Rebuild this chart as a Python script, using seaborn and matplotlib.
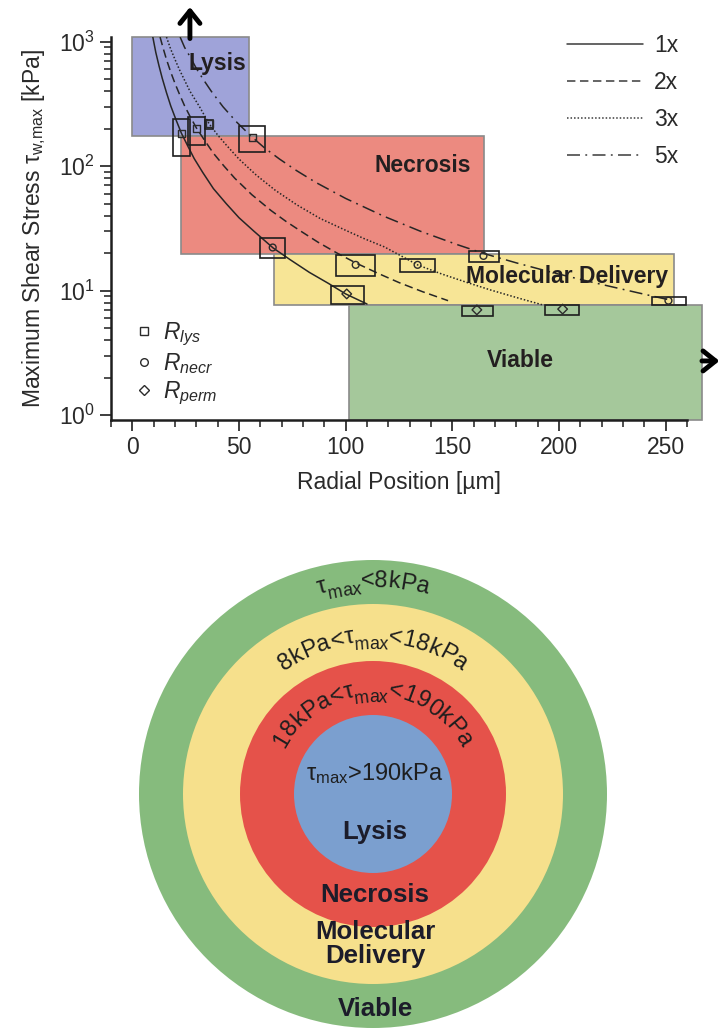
import numpy as np
import pandas as pd
import matplotlib
matplotlib.use('Agg')
import matplotlib.pyplot as plt
import seaborn as sns
from matplotlib.patches import Rectangle, Circle
from matplotlib.lines import Line2D
from matplotlib.ticker import MultipleLocator, LogLocator, NullFormatter
from matplotlib.font_manager import FontProperties

# 曲線資料: 徑向位置 [µm] 與最大剪應力 [kPa]
r_1x = [9.6, 11, 12.5, 14, 16, 18, 20.5, 23, 26, 29, 33, 38, 44, 50, 57, 66, 74, 83, 92, 100, 110]
tau_1x = [1090, 820, 640, 510, 390, 305, 235, 184, 145, 115, 89, 66, 50, 38.5, 30, 22, 17.7, 14,
          11.4, 9.4, 7.8]
r_2x = [13, 14.5, 16, 18, 20, 22, 24.5, 27, 30, 34, 38, 43, 48, 56, 65, 72, 79, 87, 96, 105, 115,
        125, 136, 148]
tau_2x = [1090, 880, 720, 570, 462, 382, 305, 252, 203, 160, 127, 100, 80, 59, 44, 36, 30, 24.5,
          20, 16.6, 13.8, 11.6, 9.8, 8.3]
r_3x = [16, 18, 20, 22, 24, 27, 31.5, 36, 40, 44, 50, 58, 67, 77, 88, 100, 109, 118, 126, 134,
        145, 157, 168, 180, 192]
tau_3x = [1090, 870, 720, 600, 510, 400, 300, 219, 178, 148, 114, 85, 64, 49, 38, 30.5, 26, 22.5,
          19, 16, 13.6, 11.6, 10.1, 8.8, 7.7]
r_5x = [22.4, 24.5, 27, 30, 33, 37, 42.5, 49, 56, 62, 69, 77, 86, 100, 118, 135, 152, 165, 180,
        196, 210, 222, 237, 252]
tau_5x = [1090, 900, 760, 610, 505, 400, 300, 225, 172, 140, 114, 92, 74, 55, 39.5, 30, 23.5, 19.8,
          16.7, 14.1, 12.3, 11, 9.6, 8.4]
scale_labels = ['1x', '2x', '3x', '5x']

# 量測點 (R_lys, R_necr, R_perm) 與誤差框
pt_kind = ['lys', 'lys', 'lys', 'lys', 'necr', 'necr', 'necr', 'necr', 'necr', 'perm', 'perm', 'perm']
pt_r = [23, 30.2, 36, 56.2, 65.8, 104.7, 133.7, 164.6, 251.3, 100.5, 161.5, 201.7]
pt_tau = [182, 200, 219, 171, 22.2, 16.1, 16.1, 19, 8.3, 9.4, 7.0, 7.1]
box_r_lo = [18.9, 26.2, 34, 50.1, 59.8, 95.7, 125.7, 157.8, 243.5, 93, 154.6, 193.5]
box_r_hi = [27, 34, 38, 62.2, 71.7, 113.7, 141.7, 171.7, 259.6, 108.7, 168.9, 209.6]
box_tau_lo = [120, 149, 200, 130, 18.2, 13.1, 14.2, 17.1, 7.7, 7.8, 6.3, 6.4]
box_tau_hi = [241, 247, 235, 209, 26.4, 19.4, 18, 20.9, 8.8, 10.9, 7.5, 7.6]

# 區域 (Lysis / Necrosis / Molecular Delivery / Viable)
region_names = ['Lysis', 'Necrosis', 'Molecular Delivery', 'Viable']
region_x0 = [0, 22.7, 66.5, 101.7]
region_x1 = [54.7, 165, 254, 266.8]
region_lo = [174, 19.8, 7.7, 0.912]
region_hi = [1091, 174, 19.8, 7.6]
region_colors = ['#9fa3d9', '#ec8a80', '#f7e596', '#a5c89b']
region_label_x = [40, 136, 204, 182]
region_label_y = [674, 102, 12.9, 2.72]

# 下方同心圓
ring_radii = [234, 190, 133, 79]
ring_colors = ['#86bb7d', '#f6e08c', '#e5524a', '#7b9fcf']
ring_names = ['Viable', 'Molecular\nDelivery', 'Necrosis', 'Lysis']

sns.set_style('ticks')
plt.rcParams['font.family'] = ['Liberation Sans', 'DejaVu Sans']
plt.rcParams['mathtext.fontset'] = 'custom'
plt.rcParams['mathtext.rm'] = 'Liberation Sans'
plt.rcParams['mathtext.it'] = 'Liberation Sans:italic'
plt.rcParams['mathtext.bf'] = 'Liberation Sans:bold'

TXT = '#2a2a2a'
FS = 16.5

fig = plt.figure(figsize=(7.2, 10.3), dpi=100)
ax = fig.add_axes([111 / 720, 1 - 420 / 1030, 576 / 720, 383 / 1030])
ax.set_yscale('log')
ax.set_xlim(-10, 260)
ax.set_ylim(0.912, 1091)

# 區域方塊
for x0, x1, lo, hi, c in zip(region_x0, region_x1, region_lo, region_hi, region_colors):
    ax.add_patch(Rectangle((x0, lo), x1 - x0, hi - lo, facecolor=c, edgecolor='#8a8a8a',
                           lw=1.2, zorder=0.5, clip_on=False))
for name, lx, ly in zip(region_names, region_label_x, region_label_y):
    ax.text(lx, ly, name, fontsize=FS, fontweight='bold', color='#231f20',
            ha='center', va='center', zorder=6)

# 曲線
curves = pd.concat([
    pd.DataFrame({'r': r_1x, 'tau': tau_1x, 'scale': '1x'}),
    pd.DataFrame({'r': r_2x, 'tau': tau_2x, 'scale': '2x'}),
    pd.DataFrame({'r': r_3x, 'tau': tau_3x, 'scale': '3x'}),
    pd.DataFrame({'r': r_5x, 'tau': tau_5x, 'scale': '5x'}),
], ignore_index=True)
dash_map = {'1x': '', '2x': (5.5, 3), '3x': (1, 1.3), '5x': (8.5, 3.5, 1.2, 3.5)}
sns.lineplot(data=curves, x='r', y='tau', style='scale', dashes=dash_map,
             color='#262626', lw=1.1, estimator=None, sort=False, legend=False, ax=ax, zorder=3)

# 誤差框與量測點
for rl, rh, tl, th in zip(box_r_lo, box_r_hi, box_tau_lo, box_tau_hi):
    ax.add_patch(Rectangle((rl, tl), rh - rl, th - tl, fill=False, edgecolor='#1e1e1e',
                           lw=1.2, zorder=4, clip_on=False))
pts = pd.DataFrame({'r': pt_r, 'tau': pt_tau, 'kind': pt_kind})
marker_map = {'lys': 's', 'necr': 'o', 'perm': 'D'}
sns.scatterplot(data=pts, x='r', y='tau', style='kind', markers=marker_map, s=24,
                color='#2b2b2b', linewidth=1.0, legend=False, ax=ax, zorder=5)
ax.collections[-1].set_facecolor('none')
ax.collections[-1].set_edgecolor('#2b2b2b')
ax.collections[-1].set_clip_on(False)

# 軸
ax.xaxis.set_major_locator(MultipleLocator(50))
ax.xaxis.set_minor_locator(MultipleLocator(10))
ax.yaxis.set_major_locator(LogLocator(base=10, numticks=10))
ax.yaxis.set_minor_locator(LogLocator(base=10, subs=np.arange(2, 10), numticks=20))
ax.yaxis.set_minor_formatter(NullFormatter())
ax.tick_params(which='major', direction='out', length=8, width=1.2, labelsize=FS,
               labelcolor=TXT, pad=3.5, color='#1e1e1e')
ax.tick_params(which='minor', direction='out', length=5, width=1.1, color='#1e1e1e')
for side in ['top', 'right']:
    ax.spines[side].set_visible(False)
for side in ['left', 'bottom']:
    ax.spines[side].set_linewidth(1.8)
    ax.spines[side].set_color('#1e1e1e')
ax.set_xlabel('Radial Position [µm]', fontsize=FS, color=TXT, labelpad=9)
ax.set_ylabel(r'Maximum Shear Stress τ$_{\mathrm{w{,}max}}$ [kPa]', fontsize=FS, color=TXT,
              labelpad=8)

# 箭頭 (超出範圍)
arrow_kw = dict(arrowstyle='->,head_length=0.5,head_width=0.4', lw=3.5, color='black',
                mutation_scale=18, shrinkA=0, shrinkB=0)
ax.annotate('', xy=(27, 1900), xytext=(27, 1060), annotation_clip=False, arrowprops=arrow_kw)
ax.annotate('', xy=(275.2, 2.72), xytext=(267, 2.72), annotation_clip=False, arrowprops=arrow_kw)

# 圖例
line_handles = [
    Line2D([], [], color='#3a3a3a', lw=1.1, ls='-'),
    Line2D([], [], color='#3a3a3a', lw=1.1, dashes=dash_map['2x']),
    Line2D([], [], color='#3a3a3a', lw=1.1, dashes=dash_map['3x']),
    Line2D([], [], color='#3a3a3a', lw=1.1, dashes=dash_map['5x']),
]
leg1 = ax.legend(line_handles, scale_labels, loc='upper right', bbox_to_anchor=(0.993, 1.021),
                 frameon=False, handlelength=3.3, handletextpad=0.5, labelspacing=0.62,
                 borderaxespad=0, borderpad=0.2, fontsize=FS, labelcolor=TXT)
ax.add_artist(leg1)
mk_handles = [Line2D([], [], ls='none', marker=m, mfc='none', mec='#2b2b2b', ms=m_s, mew=1.0)
              for m, m_s in zip(['s', 'o', 'D'], [5.5, 5.5, 5])]
ax.legend(mk_handles, ['$R_{lys}$', '$R_{necr}$', '$R_{perm}$'], loc='lower left',
          bbox_to_anchor=(0.026, 0.01), frameon=False, handlelength=0.8, handletextpad=0.4,
          labelspacing=0.15, borderaxespad=0, borderpad=0.4, fontsize=FS, labelcolor=TXT)

# 下方同心圓示意
ax2 = fig.add_axes([0, 0, 1, 540 / 1030])
ax2.set_xlim(0, 720)
ax2.set_ylim(0, 540)
ax2.axis('off')
cx, cy = 373, 236
for rr, c in zip(ring_radii, ring_colors):
    ax2.add_patch(Circle((cx, cy), rr, facecolor=c, lw=0))

RFS = 17
renderer = fig.canvas.get_renderer()


def char_width(ch, size):
    fp = FontProperties(family=['Liberation Sans', 'DejaVu Sans'], size=size)
    w1 = renderer.get_text_width_height_descent('|' + ch + '|', fp, ismath=False)[0]
    w0 = renderer.get_text_width_height_descent('||', fp, ismath=False)[0]
    return w1 - w0


def arc_label(pieces, radius, size):
    glyphs = []
    for txt, sub in pieces:
        fsz = size * 0.75 if sub else size
        for ch in txt:
            glyphs.append((ch, fsz, sub, char_width(ch, fsz)))
    total = sum(g[3] for g in glyphs)
    phi = -total / (2 * radius)
    for ch, fsz, sub, w in glyphs:
        mid = phi + w / (2 * radius)
        rr = radius - (size * 100 / 72 * 0.3 if sub else 0)
        ax2.text(cx + rr * np.sin(mid), cy + rr * np.cos(mid), ch, fontsize=fsz, color='#1e1e1e',
                 rotation=-np.degrees(mid), rotation_mode='anchor', ha='center', va='baseline')
        phi += w / radius


arc_label([('τ', False), ('max', True), ('<8kPa', False)], 207, RFS)
arc_label([('8kPa<τ', False), ('max', True), ('<18kPa', False)], 152, RFS)
arc_label([('18kPa<τ', False), ('max', True), ('<190kPa', False)], 99, RFS)
ax2.text(375, 250, r'τ$_{\mathrm{max}}$>190kPa', fontsize=RFS, color='#1e1e1e',
         ha='center', va='baseline')

ring_label_y = [14, 67, 128, 191]
for name, ly in zip(ring_names, ring_label_y):
    ax2.text(375, ly, name, fontsize=18.5, fontweight='bold', color='#1c1c2a',
             ha='center', va='baseline', linespacing=1.0)

fig.savefig('out.png', dpi=100)
